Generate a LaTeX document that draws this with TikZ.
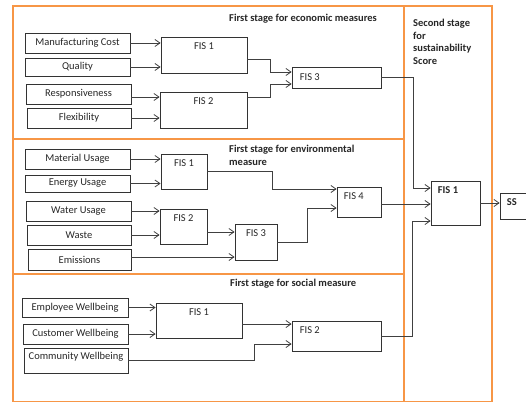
\documentclass[tikz,border=0pt]{standalone}
\usepackage{fontspec}
\setmainfont{Carlito}
\usetikzlibrary{arrows.meta}
\definecolor{stageorange}{RGB}{247,150,70}

\begin{document}
\begin{tikzpicture}[x=1pt, y=-1pt,
    every node/.style={font=\fontsize{10.5}{12.5}\selectfont, text=black!85},
    inbox/.style={draw=black!80, line width=0.8pt, inner sep=0pt},
    fisbox/.style={draw=black!80, line width=0.8pt, inner sep=0pt},
    fislab/.style={inner sep=0pt, yshift=-5.5pt},
    stagetitle/.style={font=\fontsize{10.5}{12.5}\selectfont\bfseries, align=left, inner sep=0pt},
    arr/.style={-{Straight Barb[length=5pt,width=7pt]}, draw=black!75, line width=0.8pt},
    stageframe/.style={draw=stageorange, line width=1.5pt}]

    \useasboundingbox (0,0) rectangle (526,403);
    \clip (0,0) rectangle (526,403);

    \draw[stageframe] (13,6) rectangle (404,139);
    \draw[stageframe] (13,139) rectangle (404,274);
    \draw[stageframe] (13,274) rectangle (404,401.5);
    \draw[stageframe] (404,6) rectangle (492,401.5);

    \node[stagetitle, anchor=west] (ecotitle) at (229,19) {First stage for economic measures};
    \node[stagetitle, anchor=north west] (envtitle) at (229,145) {First stage for environmental\\measure};
    \node[stagetitle, anchor=west] (soctitle) at (230,284) {First stage for social measure};
    \node[stagetitle, anchor=north west] (sectitle) at (413,19) {Second stage\\for\\sustainability\\Score};

    \node[inbox, minimum width=105pt, minimum height=20pt] (mc) at (77.5,43) {Manufacturing Cost};
    \node[inbox, minimum width=105pt, minimum height=18pt] (qu) at (77.5,67) {Quality};
    \node[inbox, minimum width=105pt, minimum height=20pt] (re) at (78.5,94) {Responsiveness};
    \node[inbox, minimum width=104pt, minimum height=20pt] (fl) at (79,118) {Flexibility};

    \node[fisbox, minimum width=86pt, minimum height=36pt,
        label={[fislab, anchor=north]north:FIS 1}] (ecoa) at (204,55) {};
    \node[fisbox, minimum width=87pt, minimum height=36pt,
        label={[fislab, anchor=north]north:FIS 2}] (ecob) at (203.5,110) {};
    \node[fisbox, minimum width=89pt, minimum height=21pt,
        label={[inner sep=0pt, anchor=west, xshift=8pt]west:FIS 3}] (ecoc) at (336.5,77.5) {};

    \node[inbox, minimum width=105pt, minimum height=20pt] (mu) at (77.5,159) {Material Usage};
    \node[inbox, minimum width=105pt, minimum height=17pt] (en) at (77.5,183.5) {Energy Usage};
    \node[inbox, minimum width=105pt, minimum height=20pt] (wa) at (78.5,211) {Water Usage};
    \node[inbox, minimum width=104pt, minimum height=20pt] (ws) at (79,235) {Waste};
    \node[inbox, minimum width=103pt, minimum height=21pt] (em) at (79.5,259.5) {Emissions};

    \node[fisbox, minimum width=46pt, minimum height=35pt,
        label={[fislab, anchor=north]north:FIS 1}] (enva) at (184,171.5) {};
    \node[fisbox, minimum width=47pt, minimum height=35pt,
        label={[fislab, anchor=north]north:FIS 2}] (envb) at (183.5,226.5) {};
    \node[fisbox, minimum width=42pt, minimum height=36pt,
        label={[fislab, anchor=north]north:FIS 3}] (envc) at (256,242) {};
    \node[fisbox, minimum width=44pt, minimum height=30pt,
        label={[fislab, anchor=north west, xshift=7pt]north west:FIS 4}] (envd) at (359,202) {};

    \node[inbox, minimum width=106pt, minimum height=19pt] (ew) at (75,307.5) {Employee Wellbeing};
    \node[inbox, minimum width=105pt, minimum height=20pt] (cw) at (75.5,334) {Customer Wellbeing};
    \node[inbox, minimum width=104pt, minimum height=25pt, text depth=10pt] (cm) at (76,360.5) {Community Wellbeing};

    \node[fisbox, minimum width=86pt, minimum height=35pt,
        label={[fislab, anchor=north]north:FIS 1}] (soca) at (199,320.5) {};
    \node[fisbox, minimum width=89pt, minimum height=30pt,
        label={[fislab, anchor=north west, xshift=8pt]north west:FIS 2}] (socb) at (336.5,336) {};

    \node[fisbox, minimum width=49pt, minimum height=44pt,
        label={[fislab, anchor=north west, xshift=7pt]north west:\textbf{FIS 1}}] (sfis) at (455.5,203) {};
    \node[fisbox, minimum width=40pt, minimum height=26pt,
        label={[fislab, anchor=north west, xshift=7pt]north west:\textbf{SS}}] (ss) at (520,206) {};

    \draw[arr] (mc.east) -- (mc.east -| ecoa.west);
    \draw[arr] (qu.east) -- (qu.east -| ecoa.west);
    \draw[arr] ([yshift=-3pt]re.east) -- ([yshift=-3pt]re.east -| ecob.west);
    \draw[arr] (fl.east) -- (fl.east -| ecob.west);
    \draw[arr] ([yshift=-4pt]ecoa.east) -- ++(23,0) |- ([yshift=5.5pt]ecoc.west);
    \draw[arr] ([yshift=13pt]ecob.east) -- ++(23,0) |- ([yshift=-6.5pt]ecoc.west);
    \draw[arr] (ecoc.east) -- ++(32,0) |- ([yshift=15pt]sfis.west);

    \draw[arr] (mu.east) -- (mu.east -| enva.west);
    \draw[arr] (en.east) -- (en.east -| enva.west);
    \draw[arr] (wa.east) -- (wa.east -| envb.west);
    \draw[arr] (ws.east) -- (ws.east -| envb.west);
    \draw[arr] ([yshift=-5.5pt]envb.east) -- ([yshift=-5.5pt]envb.east -| envc.west);
    \draw[arr] ([yshift=2.5pt]em.east) -- ([yshift=2.5pt]em.east -| envc.west);
    \draw[arr] (enva.east) -- ++(65,0) |- ([yshift=13pt]envd.west);
    \draw[arr] (envc.east) -- ++(30,0) |- ([yshift=-6pt]envd.west);
    \draw[arr] ([yshift=-2pt]envd.east) -- ([yshift=-2pt]envd.east -| sfis.west);

    \draw[arr] (ew.east) -- (ew.east -| soca.west);
    \draw[arr] (cw.east) -- (cw.east -| soca.west);
    \draw[arr] ([yshift=-3.5pt]soca.east) -- ([yshift=-3.5pt]soca.east -| socb.west);
    \draw[arr] (cm.east) -- ++(126,0) |- ([yshift=-8pt]socb.west);
    \draw[arr] (socb.east) -- ++(31,0) |- ([yshift=-18pt]sfis.west);

    \draw[arr] (sfis.east) -- (sfis.east -| ss.west);
\end{tikzpicture}
\end{document}
